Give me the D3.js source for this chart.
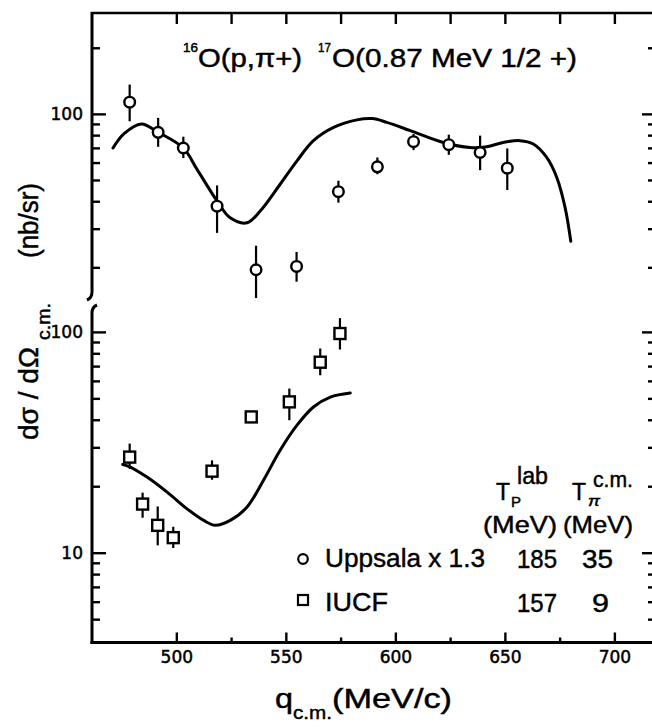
<!DOCTYPE html>
<html>
<head>
<meta charset="utf-8">
<script src="https://cdn.jsdelivr.net/npm/d3@7"></script>
<style>
  body { margin: 0; background: #fff; }
  svg { display: block; }
  text { font-family: "Liberation Sans", Arial, sans-serif; fill: #000; stroke: #000; stroke-width: 0.45; }
  .tick text { font-family: "DejaVu Sans", sans-serif; font-size: 17px; fill: #000; stroke: #000; stroke-width: 0.5; }
  .tick line { stroke: #000; stroke-width: 2.4; }
</style>
</head>
<body>
<svg id="chart" width="652" height="728"></svg>
<script>
// 16O(p,pi+)17O(0.87 MeV 1/2+) cross sections vs momentum transfer

// Uppsala (x1.3), Tp = 185 MeV
const qUppsala      = [478.7, 491.7, 503.2, 518.6, 536.4, 554.9, 574.0, 591.8, 608.3, 624.4, 638.7, 651.1];
const sigmaUppsala  = [113.0, 82.4, 69.9, 38.0, 19.5, 20.2, 44.2, 57.4, 74.7, 72.4, 66.7, 56.6];
const hiUppsala     = [136.0, 95.9, 78.7, 47.2, 25.1, 23.5, 49.6, 63.3, 81.0, 80.4, 79.6, 69.6];
const loUppsala     = [92.5, 70.8, 62.9, 28.7, 14.5, 17.2, 39.4, 53.1, 68.4, 65.1, 55.4, 45.0];

// IUCF, Tp = 157 MeV
const qIUCF         = [478.7, 484.6, 491.5, 498.6, 516.3, 534.2, 551.6, 565.7, 574.7];
const sigmaIUCF     = [27.1, 16.6, 13.3, 11.7, 23.4, 41.2, 48.2, 72.9, 98.3];
const hiIUCF        = [31.2, 18.7, 16.2, 13.1, 26.2, 41.2, 55.4, 84.1, 115.4];
const loIUCF        = [24.0, 14.4, 10.8, 10.5, 21.4, 41.2, 39.8, 63.6, 83.2];

// Calculated curves
const qCalc185     = [471.1, 476.0, 484.0, 491.7, 503.2, 509.4, 518.6, 524.6, 532.3, 538.3, 547.4, 555.1, 562.6, 571.8, 582.4, 589.4, 596.1, 606.8, 621.9, 634.1, 641.7, 649.3, 656.9, 663.0, 669.1, 673.7, 677.5, 680.1];
const sigmaCalc185 = [69.9, 81.0, 90.0, 82.4, 69.9, 56.0, 40.1, 33.6, 31.9, 36.1, 47.8, 61.1, 75.5, 86.8, 93.9, 95.2, 91.5, 83.9, 74.1, 70.3, 70.8, 74.1, 75.5, 72.9, 63.3, 51.3, 37.4, 26.3];
const qCalc157     = [475.5, 478.2, 486.6, 495.8, 504.9, 512.5, 517.8, 524.6, 532.3, 539.8, 547.4, 555.1, 562.6, 570.3, 579.4];
const sigmaCalc157 = [25.1, 24.6, 22.0, 18.8, 15.8, 14.0, 13.3, 14.0, 16.1, 21.3, 29.1, 37.8, 45.7, 50.7, 52.9];

// Axis ticks
const xMajor = [500, 550, 600, 650, 700];
const xMinor = [525, 575, 625, 675];
const yTopMajor = [100];
const yTopMinor = [20, 30, 40, 50, 60, 70, 80, 90, 200];
const yBotMajor = [10, 100];
const yBotMinor = [5, 6, 7, 8, 9, 20, 30, 40, 50, 60, 70, 80, 90];

// Legend rows
const legendNames = ["Uppsala x 1.3", "IUCF"];
const legendTp = ["185", "157"];
const legendTpi = ["35", "9"];

const svg = d3.select("#chart");
const W = 652;

const xLeft = 92, xRight = 656;
const x = d3.scaleLinear().domain([461.5, 719]).range([xLeft, xRight]);
const yTop = d3.scaleLog().domain([14.5, 288]).range([298, 13]);
const yBot = d3.scaleLog().domain([3.92, 131]).range([642.5, 306]);

function styleAxis(g) {
  g.select(".domain").remove();
  g.selectAll(".tick line").attr("stroke", "#000").attr("stroke-width", 2.4);
}

// bottom x axis
svg.append("g").attr("transform", `translate(0,${yBot.range()[0]})`)
  .call(d3.axisBottom(x).tickValues(xMajor).tickSizeInner(-10).tickSizeOuter(0).tickPadding(9).tickFormat(d3.format("d")))
  .call(styleAxis)
  .selectAll(".tick text").attr("y", 8.5);
svg.append("g").attr("transform", `translate(0,${yBot.range()[0]})`)
  .call(d3.axisBottom(x).tickValues(xMinor).tickSizeInner(-5).tickSizeOuter(0).tickFormat(""))
  .call(styleAxis);

// top x axis (frame)
svg.append("g").attr("transform", `translate(0,${yTop.range()[1]})`)
  .call(d3.axisTop(x).tickValues(xMajor.concat(xMinor)).tickSizeInner(-11).tickSizeOuter(0).tickFormat(""))
  .call(styleAxis);

// left & right y axes, both panels
function yAxes(scale, major, minor) {
  svg.append("g").attr("transform", `translate(${xLeft},0)`)
    .call(d3.axisLeft(scale).tickValues(major).tickSizeInner(-14).tickSizeOuter(0).tickPadding(9).tickFormat(d3.format("d")))
    .call(styleAxis)
    .selectAll(".tick text").attr("x", -9);
  svg.append("g").attr("transform", `translate(${xLeft},0)`)
    .call(d3.axisLeft(scale).tickValues(minor).tickSizeInner(-8).tickSizeOuter(0).tickFormat(""))
    .call(styleAxis);
  svg.append("g").attr("transform", `translate(${xRight},0)`)
    .call(d3.axisRight(scale).tickValues(major).tickSizeInner(-14).tickSizeOuter(0).tickFormat(""))
    .call(styleAxis);
  svg.append("g").attr("transform", `translate(${xRight},0)`)
    .call(d3.axisRight(scale).tickValues(minor).tickSizeInner(-8).tickSizeOuter(0).tickFormat(""))
    .call(styleAxis);
}
yAxes(yTop, yTopMajor, yTopMinor);
yAxes(yBot, yBotMajor, yBotMinor);

// frame lines with broken left axis
const frame = svg.append("g").attr("fill", "none").attr("stroke", "#000");
frame.append("line").attr("x1", xLeft - 1).attr("x2", W)
  .attr("y1", yTop.range()[1]).attr("y2", yTop.range()[1]).attr("stroke-width", 2.6);
frame.append("line").attr("x1", xLeft - 1.5).attr("x2", W)
  .attr("y1", yBot.range()[0]).attr("y2", yBot.range()[0]).attr("stroke-width", 3);
frame.append("path").attr("stroke-width", 3)
  .attr("d", `M${xLeft},${yTop.range()[1] - 1} L${xLeft},${yTop.range()[0] - 6} Q${xLeft},${yTop.range()[0]} ${xLeft - 5},${yTop.range()[0] + 2}`);
frame.append("path").attr("stroke-width", 3)
  .attr("d", `M${xLeft + 5},${yBot.range()[1] - 1} Q${xLeft},${yBot.range()[1] + 1} ${xLeft},${yBot.range()[1] + 7} L${xLeft},${yBot.range()[0] + 1.5}`);

// calculated curves
function curve(qs, vs, ys) {
  const line = d3.line().x(d => x(d[0])).y(d => ys(d[1])).curve(d3.curveCatmullRom.alpha(0.5));
  svg.append("path").datum(d3.zip(qs, vs))
    .attr("d", line).attr("fill", "none").attr("stroke", "#000")
    .attr("stroke-width", 3).attr("stroke-linecap", "round").attr("stroke-linejoin", "round");
}
curve(qCalc185, sigmaCalc185, yTop);
curve(qCalc157, sigmaCalc157, yBot);

// error bars
function errBars(qs, hi, lo, ys) {
  svg.append("g").selectAll("line").data(d3.range(qs.length)).join("line")
    .attr("x1", i => x(qs[i])).attr("x2", i => x(qs[i]))
    .attr("y1", i => ys(hi[i])).attr("y2", i => ys(lo[i]))
    .attr("stroke", "#000").attr("stroke-width", 2.2);
}
errBars(qUppsala, hiUppsala, loUppsala, yTop);
errBars(qIUCF, hiIUCF, loIUCF, yBot);

// markers
svg.append("g").selectAll("circle").data(d3.range(qUppsala.length)).join("circle")
  .attr("cx", i => x(qUppsala[i])).attr("cy", i => yTop(sigmaUppsala[i])).attr("r", 5.3)
  .attr("fill", "#fff").attr("stroke", "#000").attr("stroke-width", 2.4);
svg.append("g").selectAll("rect").data(d3.range(qIUCF.length)).join("rect")
  .attr("x", i => x(qIUCF[i]) - 5.5).attr("y", i => yBot(sigmaIUCF[i]) - 5.5)
  .attr("width", 11).attr("height", 11)
  .attr("fill", "#fff").attr("stroke", "#000").attr("stroke-width", 2.4);

// text helper
function label(txt, px, py, size, len, rot) {
  const t = svg.append("text").text(txt).attr("font-size", size)
    .attr("transform", rot ? `translate(${px},${py}) rotate(${rot})` : `translate(${px},${py})`);
  if (len) t.attr("textLength", len).attr("lengthAdjust", "spacingAndGlyphs");
  return t;
}

// title
label("16", 183, 52, 13, 15);
label("O(p,\u03c0+)", 198, 67, 25, 104);
label("17", 318, 52, 13, 13);
label("O(0.87 MeV  1/2 +)", 332, 67, 25, 245);

// y-axis title
label("d\u03c3 / d\u03a9", 38, 440, 27, 93, -90);
label("c.m.", 50, 340, 19, 37, -90);
label("(nb/sr)", 38, 258, 27, 75, -90);

// x-axis title
label("q", 275, 708, 28, 18);
label("c.m.", 293, 719, 19, 39);
label("(MeV/c)", 332, 708, 27, 120);

// legend header
label("T", 496, 500, 23, 14);
label("P", 511, 507, 14, 10);
label("lab", 517, 484, 23, 31);
label("T", 572, 500, 23, 14);
label("\u03c0", 588, 506, 15, 12).attr("font-style", "italic");
label("c.m.", 593, 487, 22, 40);
label("(MeV)", 483, 533, 24, 74);
label("(MeV)", 563, 533, 24, 70);

// legend rows
const rowY = [567, 611];
svg.append("circle").attr("cx", 303).attr("cy", 559).attr("r", 4.8)
  .attr("fill", "#fff").attr("stroke", "#000").attr("stroke-width", 2.2);
svg.append("rect").attr("x", 298).attr("y", 595).attr("width", 10).attr("height", 10)
  .attr("fill", "#fff").attr("stroke", "#000").attr("stroke-width", 2.2);
legendNames.forEach((n, i) => label(n, 325, rowY[i], 26, i === 0 ? 160 : 63));
legendTp.forEach((n, i) => label(n, 517, rowY[i] + 1, 26, 40));
legendTpi.forEach((n, i) => label(n, i === 0 ? 582 : 592, rowY[i] + 1, 26, i === 0 ? 31 : 17));
</script>
</body>
</html>
